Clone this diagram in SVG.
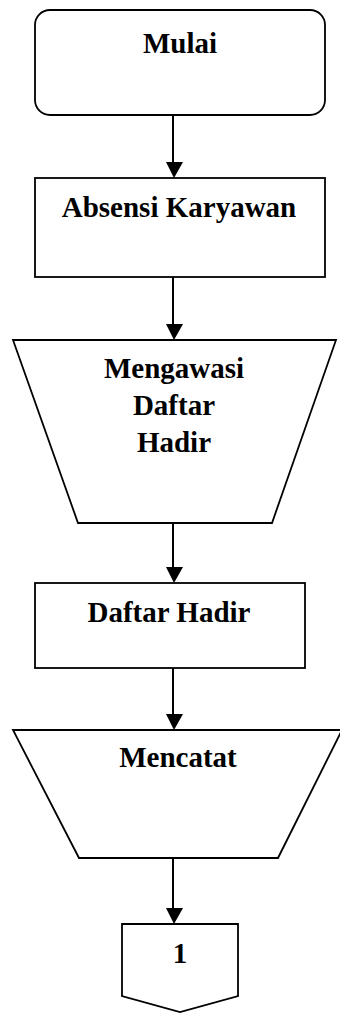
<svg xmlns="http://www.w3.org/2000/svg" width="340" height="1013" viewBox="0 0 340 1013">
  <style>
    .shape { fill: #ffffff; stroke: #000000; stroke-width: 1.8; }
    .label { font-family: "Liberation Serif", "Times New Roman", serif; font-weight: bold; font-size: 29px; fill: #000000; text-anchor: middle; }
    .flow { stroke: #000000; stroke-width: 2; fill: none; }
    .head { fill: #000000; stroke: none; }
  </style>
  <rect width="340" height="1013" fill="#ffffff"/>

  <g id="connectors">
    <line class="flow" x1="173" y1="115" x2="173" y2="165"/>
    <polygon class="head" points="166,162 183,162 174,178"/>
    <line class="flow" x1="173" y1="277" x2="173" y2="327"/>
    <polygon class="head" points="166,324 183,324 174,340"/>
    <line class="flow" x1="173" y1="523" x2="173" y2="570"/>
    <polygon class="head" points="166,567 183,567 174,583"/>
    <line class="flow" x1="173" y1="668" x2="173" y2="717"/>
    <polygon class="head" points="166,714 183,714 174,730"/>
    <line class="flow" x1="173" y1="858" x2="173" y2="910"/>
    <polygon class="head" points="166,908 183,908 174,924"/>
  </g>

  <g id="mulai">
    <rect class="shape" x="35" y="10" width="290" height="105" rx="15" ry="15"/>
    <text class="label" x="180" y="53">Mulai</text>
  </g>

  <g id="absensi-karyawan">
    <rect class="shape" x="35" y="178" width="290" height="99"/>
    <text class="label" x="179" y="217">Absensi Karyawan</text>
  </g>

  <g id="mengawasi-daftar-hadir">
    <polygon class="shape" points="13,340 336,340 272,523 78,523"/>
    <text class="label" x="174" y="378">Mengawasi</text>
    <text class="label" x="174" y="415">Daftar</text>
    <text class="label" x="174" y="452">Hadir</text>
  </g>

  <g id="daftar-hadir">
    <rect class="shape" x="35" y="583" width="270" height="85"/>
    <text class="label" x="169" y="622">Daftar Hadir</text>
  </g>

  <g id="mencatat">
    <polygon class="shape" points="13,730 342,730 278,858 79,858"/>
    <text class="label" x="178" y="767">Mencatat</text>
  </g>

  <g id="konektor-1">
    <polygon class="shape" points="122,924 238,924 238,996 180,1012 122,996"/>
    <text class="label" x="180" y="963">1</text>
  </g>
</svg>
